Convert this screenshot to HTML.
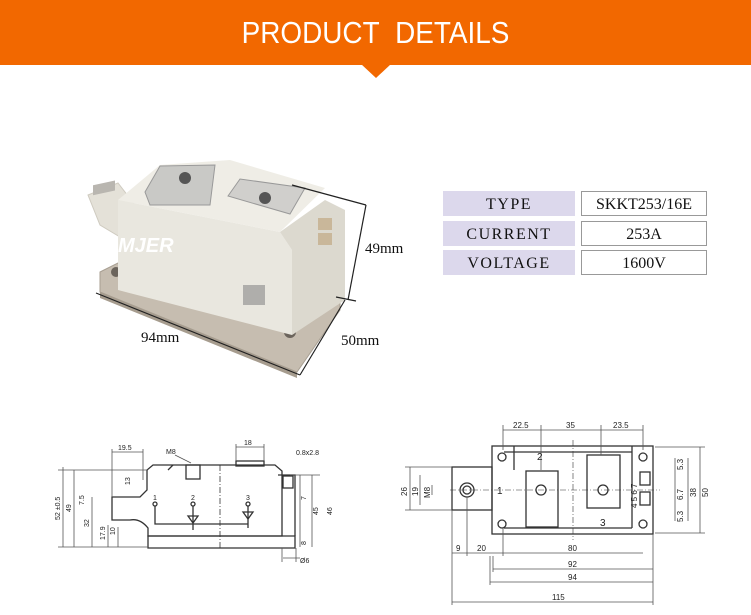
<!DOCTYPE html>
<html><head><meta charset="utf-8"><style>
html,body{margin:0;padding:0;background:#fff;}
body{width:751px;height:615px;overflow:hidden;position:relative;font-family:"Liberation Sans",sans-serif;}
.hdr{position:absolute;left:0;top:0;width:751px;height:65px;background:#f26800;}
.hdr span{position:absolute;left:0;width:751px;top:15px;text-align:center;color:#fff;font-size:31px;transform:scaleX(0.9);}
.tri{position:absolute;left:361px;top:64px;width:0;height:0;border-left:15px solid transparent;border-right:15px solid transparent;border-top:14px solid #f26800;}
.lab{position:absolute;left:443px;width:132px;height:25px;background:#dcd8ec;font-family:"Liberation Serif",serif;font-size:16px;text-align:center;line-height:27px;letter-spacing:1.5px;color:#111;}
.val{position:absolute;left:581px;width:124px;height:23px;border:1px solid #999;font-family:"Liberation Serif",serif;font-size:16px;text-align:center;line-height:25px;color:#111;}
svg{position:absolute;left:0;top:0;}
</style></head><body>
<div class="hdr"><span>PRODUCT&nbsp; DETAILS</span></div>
<div class="tri"></div>
<div class="lab" style="top:191px">TYPE</div><div class="val" style="top:191px">SKKT253/16E</div>
<div class="lab" style="top:221px">CURRENT</div><div class="val" style="top:221px">253A</div>
<div class="lab" style="top:250px">VOLTAGE</div><div class="val" style="top:250px">1600V</div>
<svg width="751" height="615" viewBox="0 0 751 615">
<!-- photo -->
<polygon points="100,272 128,258 340,296 340,310 297,372 100,292" fill="#c6bdb0" stroke="#a89f92"/>
<polygon points="100,292 297,372 297,378 100,298" fill="#a69c8e"/>
<circle cx="116" cy="272" r="5" fill="#6b645c"/><circle cx="290" cy="332" r="6" fill="#6b645c"/>
<polygon points="88,195 118,183 135,205 125,240 100,225" fill="#e4e1d8" stroke="#cfcbc0"/>
<rect x="93" y="185" width="22" height="10" fill="#b9b6b0" transform="skewY(-12) translate(0,20)"/>
<polygon points="118,200 280,232 292,250 292,335 118,290" fill="#e9e7df"/>
<polygon points="280,232 325,200 345,210 345,300 292,335 292,250" fill="#dcd9cf"/>
<polygon points="118,200 160,165 230,160 325,188 280,232" fill="#efede6"/>
<polygon points="145,192 160,166 215,165 210,205 150,205" fill="#c9c9c6" stroke="#999"/>
<circle cx="185" cy="178" r="6" fill="#555"/>
<polygon points="228,196 240,179 305,188 290,214" fill="#d0cfcc" stroke="#999"/>
<circle cx="265" cy="198" r="6" fill="#555"/>
<rect x="318" y="218" width="14" height="12" fill="#c9b79a"/><rect x="318" y="233" width="14" height="12" fill="#c9b79a"/>
<text x="118" y="252" font-family="Liberation Sans" font-size="20" font-weight="bold" font-style="italic" fill="#fff">MJER</text>
<rect x="243" y="285" width="22" height="20" fill="#888" opacity="0.6"/>
<g stroke="#222" stroke-width="1.2" fill="none">
<line x1="292" y1="185" x2="366" y2="205"/><line x1="366" y1="205" x2="348" y2="300"/><line x1="336" y1="297" x2="356" y2="301"/>
<line x1="96" y1="293" x2="300" y2="375"/><line x1="300" y1="375" x2="345" y2="300"/>
</g>
<g font-family="Liberation Serif" font-size="15" fill="#111">
<text x="365" y="253">49mm</text><text x="141" y="342">94mm</text><text x="341" y="345">50mm</text></g>
<!-- left drawing -->
<g stroke="#333" stroke-width="1.3" fill="none" font-family="Liberation Sans" font-size="7">
<path d="M148,536 H295 V548 H148 Z"/>
<path d="M112,497 H140 L147,490 V470 L153,465 H275 L282,471 V536 H148 V528 Q140,518 130,520 L112,520 Z"/>
<path d="M168,470 L173,465 M278,475 H295 V536"/>
<rect x="186" y="465" width="14" height="14"/><rect x="236" y="461" width="28" height="5"/>
<rect x="283" y="476" width="10" height="12"/>
<line x1="220" y1="465" x2="220" y2="550" stroke-dasharray="6,2,1,2" stroke-width="0.8"/>
<circle cx="155" cy="504" r="2"/><circle cx="193" cy="504" r="2"/><circle cx="248" cy="504" r="2"/>
<path d="M155,506 V524 H248 V506 M193,506 V530 M248,506 V528"/>
<path d="M188,516 h10 l-5,7 z M243,512 h10 l-5,7 z"/>
<g stroke="#555" stroke-width="0.8">
<line x1="63" y1="467" x2="63" y2="547"/><line x1="74" y1="470" x2="74" y2="547"/><line x1="92" y1="497" x2="92" y2="547"/>
<line x1="108" y1="525" x2="108" y2="547"/><line x1="118" y1="527" x2="118" y2="547"/>
<line x1="58" y1="470" x2="148" y2="470"/><line x1="58" y1="547" x2="148" y2="547"/>
<line x1="112" y1="452" x2="143" y2="452"/><line x1="112" y1="449" x2="112" y2="497"/><line x1="143" y1="449" x2="143" y2="480"/>
<line x1="236" y1="447" x2="264" y2="447"/><line x1="236" y1="444" x2="236" y2="461"/><line x1="264" y1="444" x2="264" y2="461"/>
<line x1="300" y1="475" x2="300" y2="547"/><line x1="312" y1="475" x2="312" y2="547"/><line x1="290" y1="475" x2="320" y2="475"/>
<line x1="283" y1="558" x2="300" y2="558"/><line x1="282" y1="548" x2="282" y2="562"/><line x1="296" y1="548" x2="296" y2="562"/>
<line x1="175" y1="455" x2="191" y2="463"/>
</g>
<g stroke="none" fill="#222">
<text x="118" y="450">19.5</text><text x="244" y="445">18</text><text x="296" y="455">0.8x2.8</text><text x="166" y="454">M8</text>
<text x="300" y="563">Ø6</text>
<text transform="translate(60,520) rotate(-90)">52 ±0.5</text><text transform="translate(71,512) rotate(-90)">49</text>
<text transform="translate(89,527) rotate(-90)">32</text><text transform="translate(84,505) rotate(-90)">7.5</text>
<text transform="translate(105,540) rotate(-90)">17.9</text><text transform="translate(115,535) rotate(-90)">10</text>
<text transform="translate(130,485) rotate(-90)">13</text><text transform="translate(306,500) rotate(-90)">7</text>
<text transform="translate(318,515) rotate(-90)">45</text><text transform="translate(332,515) rotate(-90)">46</text>
<text transform="translate(306,545) rotate(-90)">8</text>
<text x="153" y="500">1</text><text x="191" y="500">2</text><text x="246" y="500">3</text></g>
</g>
<!-- right drawing -->
<g stroke="#333" stroke-width="1.3" fill="none" font-family="Liberation Sans" font-size="8">
<rect x="492" y="446" width="161" height="88"/>
<path d="M504,452 H632 M504,528 H632 M514,446 V470 M632,446 V528"/>
<rect x="452" y="467" width="40" height="43"/>
<circle cx="467" cy="490" r="7"/><circle cx="467" cy="490" r="4"/>
<circle cx="502" cy="457" r="4"/><circle cx="643" cy="457" r="4"/><circle cx="502" cy="524" r="4"/><circle cx="643" cy="524" r="4"/>
<rect x="526" y="471" width="32" height="56"/><rect x="587" y="455" width="33" height="53"/>
<circle cx="541" cy="490" r="5"/><circle cx="603" cy="490" r="5"/>
<rect x="640" y="472" width="10" height="13"/><rect x="640" y="492" width="10" height="13"/>
<line x1="450" y1="490" x2="660" y2="490" stroke-dasharray="6,2,1,2" stroke-width="0.6"/>
<line x1="573" y1="440" x2="573" y2="540" stroke-dasharray="6,2,1,2" stroke-width="0.6"/>
<g stroke="#555" stroke-width="0.8">
<line x1="503" y1="430" x2="643" y2="430"/><line x1="503" y1="425" x2="503" y2="450"/><line x1="541" y1="425" x2="541" y2="470"/><line x1="601" y1="425" x2="601" y2="455"/><line x1="643" y1="425" x2="643" y2="450"/>
<line x1="452" y1="553" x2="643" y2="553"/><line x1="452" y1="510" x2="452" y2="605"/><line x1="467" y1="497" x2="467" y2="556"/><line x1="503" y1="528" x2="503" y2="556"/>
<line x1="493" y1="569" x2="653" y2="569"/><line x1="490" y1="582" x2="653" y2="582"/><line x1="452" y1="602" x2="653" y2="602"/>
<line x1="653" y1="534" x2="653" y2="605"/><line x1="493" y1="556" x2="493" y2="572"/><line x1="490" y1="556" x2="490" y2="585"/>
<line x1="700" y1="447" x2="700" y2="533"/><line x1="688" y1="458" x2="688" y2="521"/><line x1="675" y1="458" x2="675" y2="521"/>
<line x1="655" y1="447" x2="705" y2="447"/><line x1="655" y1="533" x2="705" y2="533"/>
<line x1="410" y1="467" x2="410" y2="510"/><line x1="420" y1="475" x2="420" y2="505"/><line x1="432" y1="485" x2="432" y2="495"/>
<line x1="405" y1="467" x2="452" y2="467"/><line x1="405" y1="510" x2="452" y2="510"/>
</g>
<g stroke="none" fill="#222" font-size="8">
<text x="513" y="428">22.5</text><text x="566" y="428">35</text><text x="613" y="428">23.5</text>
<text x="456" y="551">9</text><text x="477" y="551">20</text><text x="568" y="551">80</text>
<text x="568" y="567">92</text><text x="568" y="580">94</text><text x="552" y="600">115</text>
<text x="537" y="460" font-size="10">2</text><text x="497" y="494" font-size="10">1</text><text x="600" y="526" font-size="10">3</text>
<text transform="translate(407,496) rotate(-90)">26</text><text transform="translate(418,496) rotate(-90)">19</text><text transform="translate(430,498) rotate(-90)">M8</text>
<text transform="translate(708,497) rotate(-90)">50</text><text transform="translate(696,497) rotate(-90)">38</text>
<text transform="translate(683,470) rotate(-90)">5.3</text><text transform="translate(683,500) rotate(-90)">6.7</text><text transform="translate(683,522) rotate(-90)">5.3</text>
<text transform="translate(637,508) rotate(-90)">4 5   6 7</text></g>
</g>
</svg>
</body></html>
